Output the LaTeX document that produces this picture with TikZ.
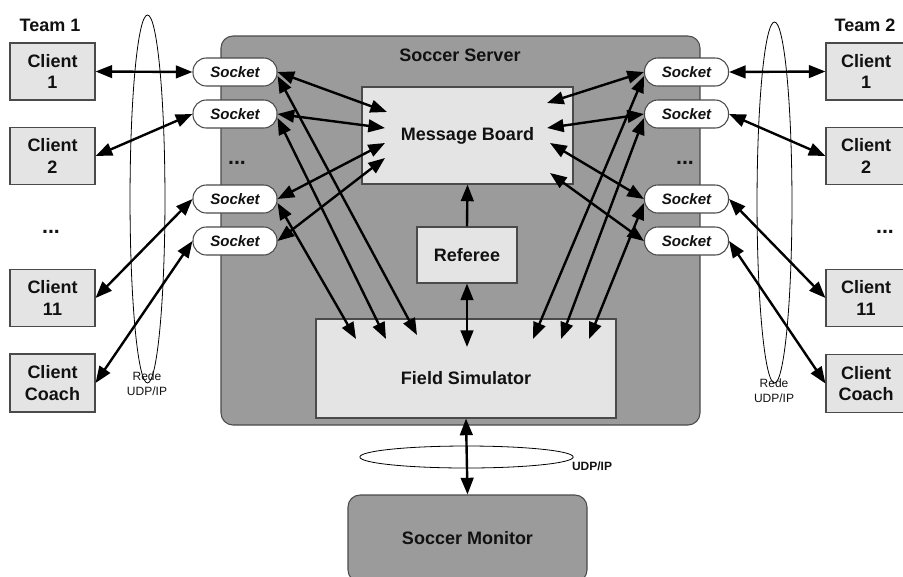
\documentclass[tikz,border=0pt]{standalone}
\usepackage{fontspec}
\setmainfont{Liberation Sans}
\usetikzlibrary{arrows.meta,calc}

\definecolor{servergray}{HTML}{9B9B9B}
\definecolor{boxgray}{HTML}{E4E4E4}
\definecolor{edgegray}{HTML}{4A4A4A}
\definecolor{inkblack}{HTML}{111111}

\begin{document}
\begin{tikzpicture}[x=0.75pt,y=-0.75pt,
  lbl/.style={font=\fontsize{13.5}{16}\selectfont\bfseries, align=center, text=inkblack},
  clientbox/.style={draw=edgegray, line width=0.8pt, fill=boxgray, minimum height=42.75pt, inner sep=0pt, lbl},
  sockbox/.style={draw=edgegray, line width=0.8pt, fill=white, rounded corners=10pt,
    minimum width=63pt, minimum height=21pt, inner sep=0pt,
    font=\fontsize{11.3}{13}\selectfont\bfseries\itshape, text=inkblack},
  innerbox/.style={draw=edgegray, line width=0.8pt, fill=boxgray, inner sep=0pt, lbl},
  roundbox/.style={draw=edgegray, line width=0.8pt, fill=servergray, rounded corners=9pt, inner sep=0pt, lbl},
  tip/.tip={Triangle[length=12.5pt,width=9.5pt]},
  link/.style={line width=1.8pt, tip-tip},
  uplink/.style={line width=1.8pt, -tip},
  net/.style={draw=black, line width=0.6pt},
  netlbl/.style={font=\fontsize{9}{11}\selectfont, align=center, text=inkblack},
  dots/.style={font=\fontsize{16}{18}\selectfont\bfseries, text=inkblack}
]

\useasboundingbox (0,0) rectangle (903,576);

% network rings
\draw[net] (147.5,199) ellipse [x radius=13.1pt, y radius=138pt];
\draw[net] (774.5,202.5) ellipse [x radius=13.1pt, y radius=135.4pt];
\draw[net] (466.5,457) ellipse [x radius=80pt, y radius=8.25pt];

% team labels
\node[lbl] (team1) at (50,25) {Team 1};
\node[lbl] (team2) at (865,25) {Team 2};

% clients of team 1
\node[clientbox, minimum width=63.75pt] (cL1)  at (52.5,71.5) {Client\\1};
\node[clientbox, minimum width=63.75pt] (cL2)  at (52.5,156)  {Client\\2};
\node[dots] (dL) at (51,232) {...};
\node[clientbox, minimum width=63.75pt] (cL11) at (52.5,298)  {Client\\11};
\node[clientbox, minimum width=63.75pt, minimum height=43.5pt] (cLc) at (52.5,383) {Client\\Coach};

% clients of team 2
\node[clientbox, minimum width=60pt] (cR1)  at (866,71.5) {Client\\1};
\node[clientbox, minimum width=60pt] (cR2)  at (866,156)  {Client\\2};
\node[dots] (dR) at (885,232) {...};
\node[clientbox, minimum width=60pt] (cR11) at (866,298)  {Client\\11};
\node[clientbox, minimum width=60pt, minimum height=43.5pt] (cRc) at (866,383.5) {Client\\Coach};

% network labels
\node[netlbl] (netL) at (147,384) {Rede\\UDP/IP};
\node[netlbl] (netR) at (774,391) {Rede\\UDP/IP};
\node[netlbl, font=\fontsize{9}{11}\selectfont\bfseries] (netB) at (592,466) {UDP/IP};

% soccer server
\node[roundbox, minimum width=359.25pt, minimum height=291.75pt] (server) at (460.5,230.5) {};
\node[lbl] (servertitle) at (460,55) {Soccer Server};

\node[innerbox, minimum width=158.25pt, minimum height=72.75pt] (mb) at (467.5,135.5) {Message Board};
\node[innerbox, minimum width=75pt, minimum height=42pt] (ref) at (467,255) {Referee};
\node[innerbox, minimum width=225pt, minimum height=74.25pt] (fs) at (466,368.5) {};
\node[lbl] (fstext) at (466,378) {Field Simulator};

% sockets
\node[sockbox] (sL1) at (235,72)  {Socket};
\node[sockbox] (sL2) at (235,114) {Socket};
\node[dots] (dSL) at (237,163) {...};
\node[sockbox] (sL3) at (235,199) {Socket};
\node[sockbox] (sL4) at (235,241) {Socket};

\node[sockbox] (sR1) at (686.5,72)  {Socket};
\node[sockbox] (sR2) at (686.5,114) {Socket};
\node[dots] (dSR) at (685,163) {...};
\node[sockbox] (sR3) at (686.5,199) {Socket};
\node[sockbox] (sR4) at (686.5,241) {Socket};

% soccer monitor
\node[roundbox, minimum width=179.25pt, minimum height=65.25pt] (monitor) at (467.5,538.5) {Soccer Monitor};

% arrow ends inside the boxes
\coordinate (mL1) at (387,112);
\coordinate (mL2) at (385,128);
\coordinate (mL3) at (385,143);
\coordinate (mL4) at (385,158);
\coordinate (mR1) at (547,103);
\coordinate (mR2) at (547,128);
\coordinate (mR3) at (550,143);
\coordinate (mR4) at (550,173);
\coordinate (fL1) at (417,335);
\coordinate (fL2) at (386,339);
\coordinate (fL3) at (356,339);
\coordinate (fR1) at (533,339);
\coordinate (fR2) at (561,339);
\coordinate (fR3) at (589,339);
\coordinate (fRef) at (467,347);

% clients to sockets
\draw[link] (cL1.east) -- (sL1.west);
\draw[link] (cL2.east) -- (sL2.west);
\draw[link] (cL11.east) -- (sL3.west);
\draw[link] (cLc.east) -- (sL4.west);
\draw[link] (sR1.east) -- (cR1.west);
\draw[link] (sR2.east) -- (cR2.west);
\draw[link] (sR3.east) -- (cR11.west);
\draw[link] (sR4.east) -- (cRc.west);

% sockets to message board
\draw[link] (sL1.east) -- (mL1);
\draw[link] (sL2.east) -- (mL2);
\draw[link] (sL3.east) -- (mL3);
\draw[link] (sL4.east) -- (mL4);
\draw[link] (sR1.west) -- (mR1);
\draw[link] (sR2.west) -- (mR2);
\draw[link] (sR3.west) -- (mR3);
\draw[link] (sR4.west) -- (mR4);

% sockets to field simulator
\draw[link] ($(sL1.east)+(0,4)$) -- (fL1);
\draw[link] ($(sL2.east)+(0,4)$) -- (fL2);
\draw[link] ($(sL3.east)+(0,4)$) -- (fL3);
\draw[link] ($(sR1.west)+(0,4)$) -- (fR1);
\draw[link] ($(sR2.west)+(0,4)$) -- (fR2);
\draw[link] ($(sR3.west)+(0,4)$) -- (fR3);

% referee, field simulator and monitor
\draw[uplink] (ref.north) -- (mb.south);
\draw[link] (ref.south) -- (fRef);
\draw[link] (fs.south) -- (monitor.north);

\end{tikzpicture}
\end{document}
